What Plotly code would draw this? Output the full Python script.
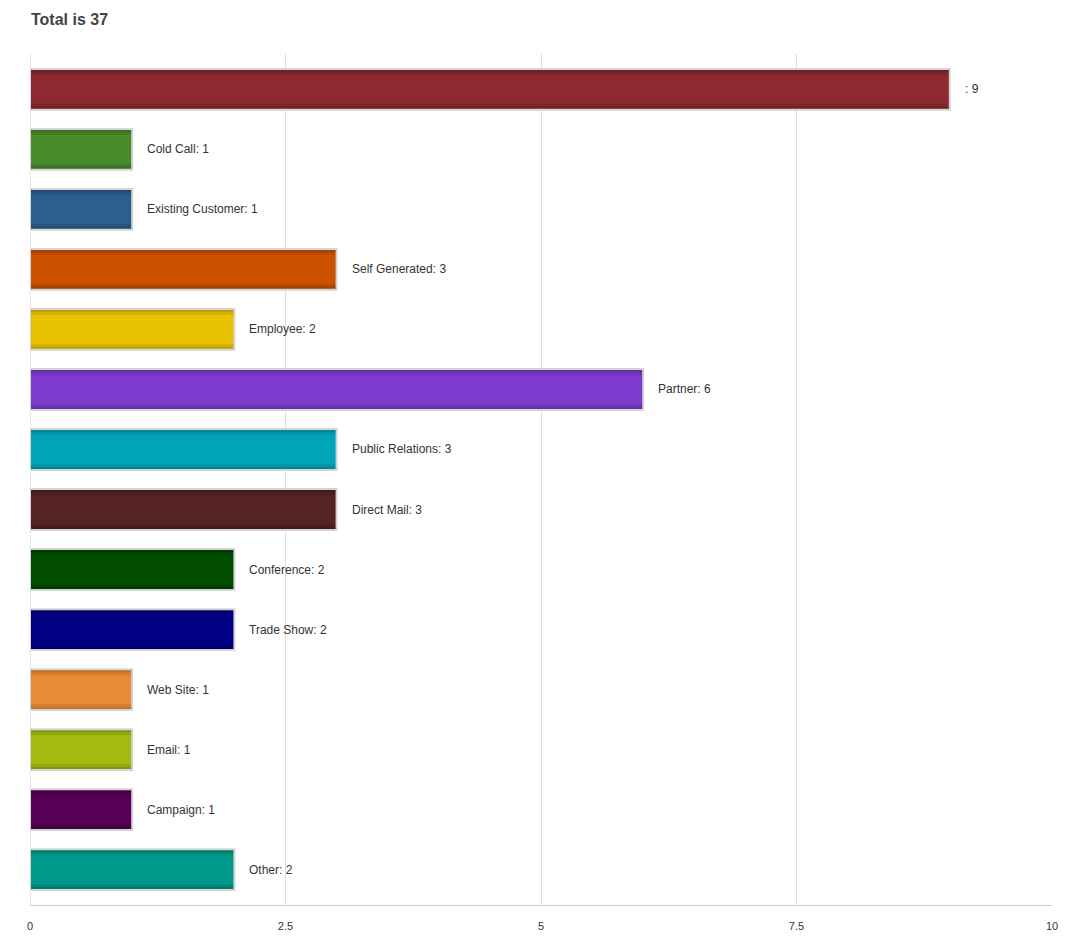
import plotly.graph_objects as go

categories = ["", "Cold Call", "Existing Customer", "Self Generated", "Employee", "Partner",
              "Public Relations", "Direct Mail", "Conference", "Trade Show", "Web Site",
              "Email", "Campaign", "Other"]
values = [9, 1, 1, 3, 2, 6, 3, 3, 2, 2, 1, 1, 1, 2]
main_colors = ["#8c2a2f", "#4a8b2c", "#2d5f8e", "#cc5200", "#e8c200", "#7d3acc", "#00a5b8",
               "#552324", "#004d00", "#000085", "#e68c35", "#a3ba0f", "#570058", "#009a8c"]
mid_colors = ["#7d2529", "#427c27", "#28557f", "#b84a00", "#d4b100", "#7134bb", "#0095a7",
              "#4b1f20", "#004400", "#000077", "#d47e2f", "#93a80d", "#4d004e", "#008a7d"]
edge_colors = ["#6e1f23", "#3a6e22", "#234a70", "#a34200", "#bf9f00", "#6530a8", "#008596",
               "#3f1a1b", "#003800", "#000066", "#c07028", "#83960a", "#420043", "#007a6e"]
tick_vals = [0, 2.5, 5, 7.5, 10]
tick_text = ["0", "2.5", "5", "7.5", "10"]
title_text = "Total is 37"

pos = list(range(len(categories)))
labels = [f"{c}: {v}" for c, v in zip(categories, values)]
font_family = "Liberation Sans, Arial, sans-serif"

fig = go.Figure()
fig.add_trace(go.Bar(x=values, y=pos, orientation="h", width=0.68,
                     marker=dict(color=edge_colors, line=dict(width=0)), hoverinfo="skip"))
fig.add_trace(go.Bar(x=values, y=pos, orientation="h", width=0.58,
                     marker=dict(color=mid_colors, line=dict(width=0)), hoverinfo="skip"))
fig.add_trace(go.Bar(x=values, y=pos, orientation="h", width=0.48,
                     marker=dict(color=main_colors, line=dict(width=0)),
                     hovertext=labels, hoverinfo="text"))
fig.add_trace(go.Bar(x=values, y=pos, orientation="h", width=0.68,
                     marker=dict(color="rgba(0,0,0,0)", line=dict(width=2, color="#d4d4d4")),
                     hoverinfo="skip"))

for p, v, t in zip(pos, values, labels):
    fig.add_annotation(x=v, y=p, text=t, showarrow=False, xanchor="left", xshift=13,
                       font=dict(family=font_family, size=12, color="#333333"))

fig.update_layout(
    width=1064, height=932,
    barmode="overlay",
    showlegend=False,
    plot_bgcolor="white", paper_bgcolor="white",
    margin=dict(l=22, r=20, t=46, b=35, autoexpand=False),
    title=dict(text=f"<b>{title_text}</b>", x=0.0216, xanchor="left", y=0.994, yanchor="top",
               font=dict(family=font_family, size=16, color="#444444")),
)
fig.update_xaxes(range=[0, 10], tickvals=tick_vals, ticktext=tick_text,
                 showgrid=True, gridcolor="#dddddd", gridwidth=1,
                 showline=True, linecolor="#cccccc", linewidth=1, mirror=False,
                 zeroline=False, ticks="", ticklen=0, ticklabelstandoff=11, automargin=False,
                 tickfont=dict(family=font_family, size=11, color="#333333"))
fig.update_yaxes(range=[len(categories) - 0.41, -0.59], showticklabels=False, showgrid=False,
                 zeroline=False, showline=False, ticks="", automargin=False)
fig.add_vline(x=0, line=dict(color="#cccccc", width=1), layer="below")
fig.write_html("out.html")
